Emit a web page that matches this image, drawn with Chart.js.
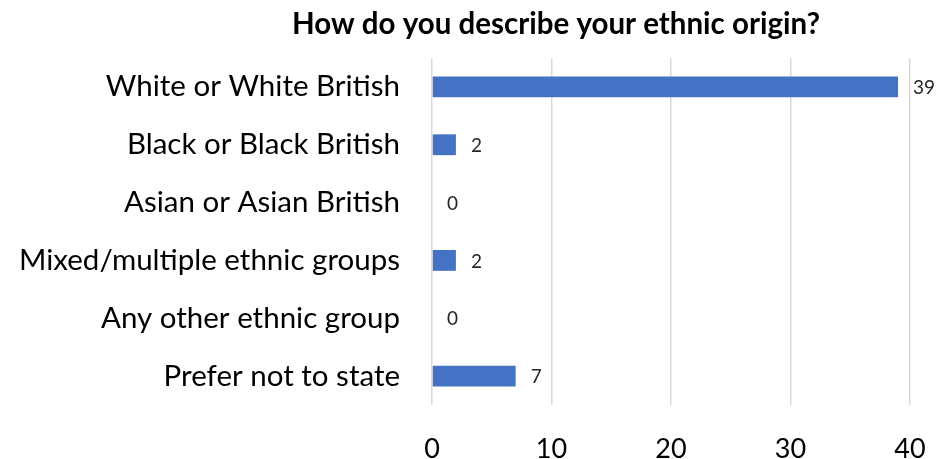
<!DOCTYPE html>
<html>
<head>
<meta charset="utf-8">
<script src="https://cdn.jsdelivr.net/npm/chart.js@4"></script>
<style>
    html, body { margin: 0; padding: 0; background: #fff; }
    #grafico { display: block; }
</style>
</head>
<body>
<canvas id="grafico" width="943" height="459"></canvas>
<script>
const titulo = "How do you describe your ethnic origin?";
const categorias = [
    "White or White British",
    "Black or Black British",
    "Asian or Asian British",
    "Mixed/multiple ethnic groups",
    "Any other ethnic group",
    "Prefer not to state"
];
const respuestas = [39, 2, 0, 2, 0, 7];
const ejeX = { min: 0, max: 40, paso: 10 };

const fuente = "Lato, 'Open Sans', sans-serif";

// titulo dibujado a mano para poder centrarlo donde queremos
const pluginTitulo = {
    id: "tituloManual",
    afterDraw(chart) {
        const ctx = chart.ctx;
        ctx.save();
        ctx.font = "bold 29.5px " + fuente;
        ctx.fillStyle = "#000";
        ctx.textAlign = "center";
        ctx.textBaseline = "middle";
        ctx.fillText(titulo, 556, 24);
        ctx.restore();
    }
};

// numero al final de cada barra
const pluginEtiquetas = {
    id: "etiquetasValor",
    afterDatasetsDraw(chart) {
        const ctx = chart.ctx;
        const meta = chart.getDatasetMeta(0);
        ctx.save();
        ctx.font = "19px " + fuente;
        ctx.fillStyle = "#262626";
        ctx.textAlign = "left";
        ctx.textBaseline = "middle";
        meta.data.forEach((barra, i) => {
            ctx.fillText(String(respuestas[i]), barra.x + 15, barra.y + 1);
        });
        ctx.restore();
    }
};

new Chart(document.getElementById("grafico").getContext("2d"), {
    type: "bar",
    data: {
        labels: categorias,
        datasets: [{
            data: respuestas,
            backgroundColor: "#4472C4",
            borderWidth: 0,
            barPercentage: 0.72,
            categoryPercentage: 0.5
        }]
    },
    options: {
        indexAxis: "y",
        responsive: false,
        animation: false,
        layout: { padding: { top: 58, right: 33, bottom: 0, left: 0 } },
        plugins: {
            legend: { display: false },
            title: { display: false },
            tooltip: { enabled: false }
        },
        scales: {
            x: {
                min: ejeX.min,
                max: ejeX.max,
                ticks: {
                    stepSize: ejeX.paso,
                    color: "#000",
                    padding: 28,
                    font: { family: fuente, size: 27 }
                },
                grid: { color: "#d9d9d9", lineWidth: 1.5, drawTicks: false },
                border: { display: false },
                afterFit(escala) {
                    escala.height = 54;
                    escala.paddingLeft = 0;
                    escala.paddingRight = 0;
                }
            },
            y: {
                ticks: {
                    color: "#000",
                    padding: 32,
                    font: { family: fuente, size: 29.5 }
                },
                grid: { display: false, drawTicks: false },
                border: { display: false },
                afterFit(escala) { escala.width = 432; }
            }
        }
    },
    plugins: [pluginTitulo, pluginEtiquetas]
});
</script>
</body>
</html>
